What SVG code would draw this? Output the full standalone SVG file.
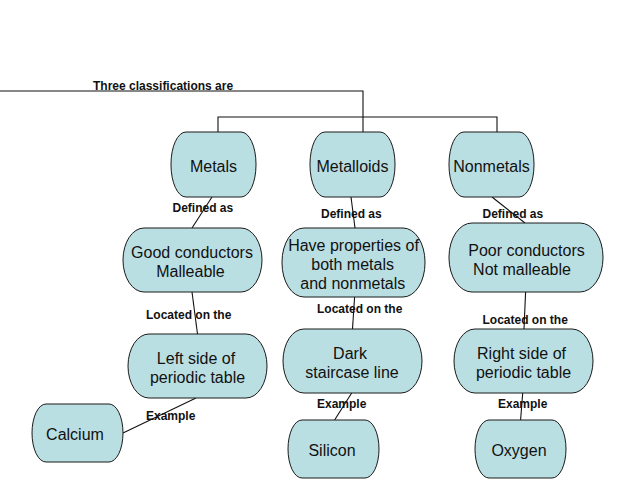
<svg xmlns="http://www.w3.org/2000/svg" width="638" height="479" viewBox="0 0 638 479">
<style>
.node rect{fill:#badfe3;stroke:#1a1a1a;stroke-width:1}
.node text{font-family:"Liberation Sans",Arial,sans-serif;font-size:16px;fill:#111;text-anchor:middle}
.conn{fill:none;stroke:#111;stroke-width:1.1}
.lbl{font-family:"Liberation Sans",Arial,sans-serif;font-size:12px;font-weight:bold;fill:#111}
</style>
<rect width="638" height="479" fill="#fff"/>
<g id="connectors">
<path class="conn" d="M0,91 H363 V132"/>
<path class="conn" d="M218,132 V117 H497 V132"/>
<line class="conn" x1="212" y1="197" x2="192" y2="228"/>
<line class="conn" x1="351" y1="197" x2="355" y2="228"/>
<line class="conn" x1="492" y1="197" x2="525" y2="223"/>
<line class="conn" x1="192" y1="292" x2="197.5" y2="334"/>
<line class="conn" x1="354.6" y1="297" x2="352.5" y2="329"/>
<line class="conn" x1="525.6" y1="292" x2="524" y2="329"/>
<line class="conn" x1="196" y1="398" x2="123" y2="433"/>
<line class="conn" x1="351.7" y1="393" x2="334.6" y2="420"/>
<line class="conn" x1="522.7" y1="393" x2="520.6" y2="420"/>
</g>
<g id="labels">
<text class="lbl" x="93" y="90">Three classifications are</text>
<text class="lbl" x="172.5" y="212.3">Defined as</text>
<text class="lbl" x="321" y="218.3">Defined as</text>
<text class="lbl" x="482.5" y="218.3">Defined as</text>
<text class="lbl" x="146" y="319.3">Located on the</text>
<text class="lbl" x="317" y="313.3">Located on the</text>
<text class="lbl" x="482.5" y="324.3">Located on the</text>
<text class="lbl" x="146" y="420.3">Example</text>
<text class="lbl" x="317" y="408.3">Example</text>
<text class="lbl" x="498" y="408.3">Example</text>
</g>
<g id="metals" class="node"><rect x="171" y="132" width="85" height="65" rx="15" ry="32"/><text x="213.5" y="171.5">Metals</text></g>
<g id="metalloids" class="node"><rect x="310" y="132" width="85" height="65" rx="15" ry="32"/><text x="352.5" y="171.5">Metalloids</text></g>
<g id="nonmetals" class="node"><rect x="449" y="132" width="85" height="65" rx="15" ry="32"/><text x="491.5" y="171.5">Nonmetals</text></g>
<g id="good-conductors" class="node"><rect x="123" y="228" width="139" height="64" rx="21" ry="32"/><text x="192" y="257.5">Good conductors</text><text x="190.5" y="276.5">Malleable</text></g>
<g id="have-properties" class="node"><rect x="282" y="228" width="143" height="69" rx="22" ry="34"/><text x="353.5" y="250.5">Have properties of</text><text x="352.6" y="269.5">both metals</text><text x="352.8" y="288.8">and nonmetals</text></g>
<g id="poor-conductors" class="node"><rect x="449" y="223" width="154" height="69" rx="23" ry="34"/><text x="526.5" y="255.5">Poor conductors</text><text x="522" y="274.5">Not malleable</text></g>
<g id="left-side" class="node"><rect x="128" y="334" width="139" height="64" rx="21" ry="32"/><text x="196" y="363.5">Left side of</text><text x="197.5" y="382.5">periodic table</text></g>
<g id="dark-staircase" class="node"><rect x="283" y="329" width="139" height="64" rx="21" ry="32"/><text x="350" y="358.5">Dark</text><text x="352" y="377.5">staircase line</text></g>
<g id="right-side" class="node"><rect x="454" y="329" width="139" height="64" rx="21" ry="32"/><text x="521.5" y="358.5">Right side of</text><text x="523.5" y="377.5">periodic table</text></g>
<g id="calcium" class="node"><rect x="32" y="404" width="91" height="58" rx="14" ry="29"/><text x="75" y="439.5">Calcium</text></g>
<g id="silicon" class="node"><rect x="288" y="420" width="91" height="58" rx="14" ry="29"/><text x="332" y="455.5">Silicon</text></g>
<g id="oxygen" class="node"><rect x="475" y="420" width="91" height="58" rx="14" ry="29"/><text x="519" y="455.5">Oxygen</text></g>
</svg>
